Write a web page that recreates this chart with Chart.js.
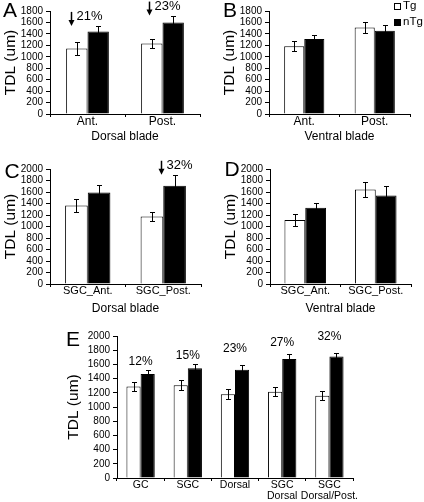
<!DOCTYPE html>
<html>
<head>
<meta charset="utf-8">
<title>TDL panels</title>
<script src="https://cdn.jsdelivr.net/npm/chart.js@4.4.1/dist/chart.umd.min.js"></script>
<style>
  body { margin: 0; background: #fff; }
  #wrap { position: relative; width: 424px; height: 502px; }
  canvas { position: absolute; }
</style>
</head>
<body>
<div id="wrap">
  <canvas id="chartA" width="212" height="144" style="left:0;top:0"></canvas>
  <canvas id="chartB" width="212" height="144" style="left:212px;top:0"></canvas>
  <canvas id="chartC" width="212" height="166" style="left:0;top:150px"></canvas>
  <canvas id="chartD" width="212" height="166" style="left:212px;top:150px"></canvas>
  <canvas id="chartE" width="424" height="182" style="left:0;top:320px"></canvas>
</div>
<script>
// panel A - dorsal blade
const catsA = ['Ant.', 'Post.'];
const tgA = [1145, 1230];
const tgErrA = [110, 80];
const ntgA = [1440, 1600];
const ntgErrA = [100, 120];
const pctA = ['21%', '23%'];

// panel B - ventral blade
const catsB = ['Ant.', 'Post.'];
const tgB = [1185, 1510];
const tgErrB = [90, 90];
const ntgB = [1310, 1455];
const ntgErrB = [75, 95];

// panel C - dorsal blade, SGC
const catsC = ['SGC_Ant.', 'SGC_Post.'];
const tgC = [1365, 1175];
const tgErrC = [110, 75];
const ntgC = [1590, 1710];
const ntgErrC = [125, 190];
const pctC = ['32%'];

// panel D - ventral blade, SGC
const catsD = ['SGC_Ant.', 'SGC_Post.'];
const tgD = [1115, 1645];
const tgErrD = [105, 135];
const ntgD = [1325, 1540];
const ntgErrD = [90, 165];

// panel E - summary
const catsE = ['GC', 'SGC', 'Dorsal', ['SGC', 'Dorsal'], ['SGC', 'Dorsal/Post.']];
const tgE = [1290, 1305, 1180, 1215, 1160];
const tgErrE = [60, 70, 70, 65, 65];
const ntgE = [1465, 1545, 1525, 1675, 1710];
const ntgErrE = [55, 55, 60, 75, 50];
const pctE = ['12%', '15%', '23%', '27%', '32%'];

Chart.defaults.font.family = "'Liberation Sans', Arial, sans-serif";
Chart.defaults.color = '#000';

// error bars drawn from each bar's value +/- its error
const errorBars = {
  id: 'errorBars',
  afterDatasetsDraw(chart) {
    const ctx = chart.ctx, y = chart.scales.y;
    ctx.save();
    ctx.strokeStyle = '#000';
    ctx.lineWidth = 1;
    chart.data.datasets.forEach((ds, i) => {
      chart.getDatasetMeta(i).data.forEach((bar, j) => {
        const hi = Math.round(y.getPixelForValue(ds.data[j] + ds.errors[j])) + 0.5;
        const lo = Math.round(y.getPixelForValue(ds.data[j] - ds.errors[j])) + 0.5;
        const x = Math.round(bar.x) + 0.5;
        ctx.beginPath();
        ctx.moveTo(x, hi); ctx.lineTo(x, lo);
        ctx.moveTo(x - 2.5, hi); ctx.lineTo(x + 2.5, hi);
        ctx.moveTo(x - 2.5, lo); ctx.lineTo(x + 2.5, lo);
        ctx.stroke();
      });
    });
    ctx.restore();
  }
};

// panel letter, arrows with percent, plain percent labels, legend
const extras = {
  id: 'extras',
  afterDraw(chart, args, o) {
    const ctx = chart.ctx, xs = chart.scales.x, ys = chart.scales.y;
    const ds = chart.data.datasets;
    ctx.save();
    ctx.fillStyle = '#000';
    ctx.strokeStyle = '#000';
    if (o.letter) {
      ctx.font = "21px 'Liberation Sans', Arial, sans-serif";
      ctx.textAlign = 'center';
      ctx.textBaseline = 'middle';
      ctx.fillText(o.letter, o.letterX, o.letterY);
    }
    (o.arrows || []).forEach(a => {
      const x = Math.round(xs.getPixelForValue(a.cat) + a.dx) + 0.5;
      const tip = ys.getPixelForValue(ds[1].data[a.cat] + ds[1].errors[a.cat]);
      ctx.lineWidth = 1.5;
      ctx.beginPath();
      ctx.moveTo(x, tip - 14); ctx.lineTo(x, tip - 4);
      ctx.stroke();
      ctx.beginPath();
      ctx.moveTo(x - 3, tip - 6); ctx.lineTo(x + 3, tip - 6); ctx.lineTo(x, tip);
      ctx.closePath();
      ctx.fill();
      ctx.font = "13px 'Liberation Sans', Arial, sans-serif";
      ctx.textAlign = 'left';
      ctx.textBaseline = 'middle';
      ctx.fillText(a.text, x + 5, tip - 9);
    });
    (o.labels || []).forEach(l => {
      ctx.font = "12px 'Liberation Sans', Arial, sans-serif";
      ctx.textAlign = 'center';
      ctx.textBaseline = 'middle';
      ctx.fillText(l.text, xs.getPixelForValue(l.cat), ys.getPixelForValue(l.value));
    });
    if (o.legend) {
      ctx.font = "11.5px 'Liberation Sans', Arial, sans-serif";
      ctx.textAlign = 'left';
      ctx.textBaseline = 'middle';
      ctx.lineWidth = 1;
      ds.forEach((d, i) => {
        const cy = o.legend.y[i];
        ctx.fillStyle = d.backgroundColor;
        ctx.fillRect(o.legend.x, cy - 3, 7, 7);
        ctx.strokeRect(o.legend.x + 0.5, cy - 2.5, 6, 6);
        ctx.fillStyle = '#000';
        ctx.fillText(d.label, o.legend.x + 9, cy);
      });
    }
    ctx.restore();
  }
};

function makePanel(id, cats, tg, tgErr, ntg, ntgErr, box, extra) {
  const cv = document.getElementById(id);
  const W = cv.width, H = cv.height;
  return new Chart(cv, {
    type: 'bar',
    data: {
      labels: cats,
      datasets: [
        { label: 'Tg', data: tg, errors: tgErr, backgroundColor: '#ffffff', borderColor: '#000', borderWidth: 1 },
        { label: 'nTg', data: ntg, errors: ntgErr, backgroundColor: '#000000', borderColor: '#000', borderWidth: 1 }
      ]
    },
    options: {
      responsive: false,
      animation: false,
      events: [],
      layout: { padding: { left: 0, top: box.top, right: W - box.right, bottom: 0 } },
      datasets: { bar: { categoryPercentage: box.catPct, barPercentage: 1 } },
      plugins: { legend: { display: false }, tooltip: { enabled: false }, extras: extra },
      scales: {
        x: {
          grid: { drawOnChartArea: false, color: '#000', tickLength: 3, offset: true },
          border: { color: '#000' },
          ticks: { font: { size: box.xFont, lineHeight: 1.1 }, padding: -2, maxRotation: 0, autoSkip: false },
          title: { display: !!box.xTitle, text: box.xTitle, font: { size: 12 }, padding: 0 },
          afterFit: s => { s.height = H - box.bottom; }
        },
        y: {
          min: 0,
          max: box.yMax,
          grid: { color: '#000', drawOnChartArea: false, tickLength: 4 },
          border: { color: '#000' },
          ticks: { stepSize: 200, autoSkip: false, font: { size: 10, lineHeight: 1 }, padding: 3,
                   callback: v => String(v) },
          title: { display: true, text: 'TDL (um)', font: { size: 15.5 }, padding: { top: box.titleX - 9.3, bottom: 0 } },
          afterFit: s => { s.width = box.left; }
        }
      }
    },
    plugins: [errorBars, extras]
  });
}

makePanel('chartA', catsA, tgA, tgErrA, ntgA, ntgErrA,
  { left: 50, right: 200, top: 11, bottom: 114, yMax: 1800, catPct: 0.57, xFont: 12, xTitle: 'Dorsal blade', titleX: 11 },
  { letter: 'A', letterX: 10, letterY: 11,
    arrows: [{ cat: 0, dx: -17, text: pctA[0] }, { cat: 1, dx: -14, text: pctA[1] }] });

makePanel('chartB', catsB, tgB, tgErrB, ntgB, ntgErrB,
  { left: 57, right: 198, top: 11, bottom: 114, yMax: 1800, catPct: 0.57, xFont: 12, xTitle: 'Ventral blade', titleX: 18 },
  { letter: 'B', letterX: 18, letterY: 11, legend: { x: 182, y: [6, 22] } });

makePanel('chartC', catsC, tgC, tgErrC, ntgC, ntgErrC,
  { left: 50, right: 201, top: 19, bottom: 134, yMax: 2000, catPct: 0.6, xFont: 11, xTitle: 'Dorsal blade', titleX: 11 },
  { letter: 'C', letterX: 12, letterY: 22, arrows: [{ cat: 1, dx: -2, text: pctC[0] }] });

makePanel('chartD', catsD, tgD, tgErrD, ntgD, ntgErrD,
  { left: 58, right: 199, top: 19, bottom: 134, yMax: 2000, catPct: 0.59, xFont: 11, xTitle: 'Ventral blade', titleX: 18.5 },
  { letter: 'D', letterX: 20, letterY: 20.5 });

makePanel('chartE', catsE, tgE, tgErrE, ntgE, ntgErrE,
  { left: 117, right: 353, top: 16, bottom: 158, yMax: 2000, catPct: 0.6, xFont: 10.5, xTitle: '', titleX: 74 },
  { letter: 'E', letterX: 73, letterY: 20,
    labels: pctE.map((t, i) => ({ cat: i, text: t, value: [1634, 1720, 1818, 1902, 1987][i] })) });
</script>
</body>
</html>
